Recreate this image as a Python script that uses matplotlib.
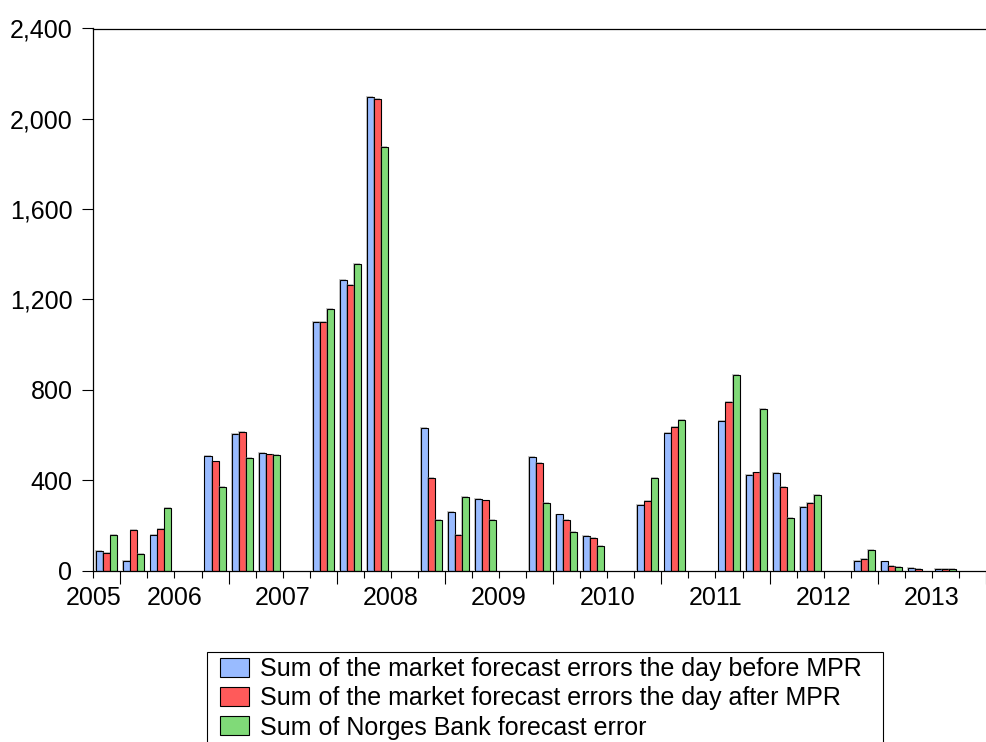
import numpy as np
import matplotlib
matplotlib.use("Agg")
import matplotlib.pyplot as plt
import matplotlib.patheffects as pe
from matplotlib.patches import Rectangle
from matplotlib.ticker import FuncFormatter

plt.rcParams['font.family'] = ['Liberation Sans', 'DejaVu Sans']

# one entry per quarter slot on the axis, None = no report that quarter
before_mpr = [85, 43, 159, None, 509, 605, 519, None, 1099, 1287, 2096, None,
              632, 258, 317, None, 502, 248, 153, None, 292, 611, None,
              661, 425, 431, 282, None, 44, 40, 13, 7, None]
after_mpr = [78, 180, 183, None, 483, 615, 514, None, 1099, 1266, 2090, None,
             409, 159, 310, None, 477, 224, 143, None, 309, 636, None,
             748, 434, 369, 301, None, 53, 19, 7, 7, None]
norges_bank = [158, 74, 278, None, 371, 500, 512, None, 1158, 1359, 1874, None,
               224, 326, 224, None, 300, 170, 108, None, 409, 667, None,
               865, 716, 233, 335, None, 90, 15, None, 8, None]

year_labels = ['2005', '2006', '2007', '2008', '2009', '2010', '2011', '2012', '2013']
year_label_slots = [0, 3, 7, 11, 15, 19, 23, 27, 31]
series_names = ['Sum of the market forecast errors the day before MPR',
                'Sum of the market forecast errors the day after MPR',
                'Sum of Norges Bank forecast error']
colors = ['#99BBFF', '#FF5A5A', '#80DA78']

FS = 18

fig = plt.figure(figsize=(9.86, 7.42), dpi=100)
ax = fig.add_axes([93.3 / 986, 1 - 570.5 / 742, 1 - 93.3 / 986, (570.5 - 28.5) / 742])

n = len(before_mpr)
x = np.arange(n)
w = 0.26
shadow = [pe.SimplePatchShadow(offset=(-0.6, 0.6), shadow_rgbFace='0.5', alpha=0.45), pe.Normal()]

handles = []
for k, (vals, col, name) in enumerate(zip([before_mpr, after_mpr, norges_bank], colors, series_names)):
    v = np.array([np.nan if a is None else a for a in vals], dtype=float)
    bars = ax.bar(x + (k - 1) * w, v, width=w, color=col, edgecolor='black',
                  linewidth=0.8, label=name, zorder=2)
    for b in bars:
        b.set_path_effects(shadow)
    handles.append(bars)

ax.set_ylim(0, 2400)
ax.set_xlim(-0.5, -0.5 + (986 - 93.3) / 27.4)
ax.set_yticks([0, 400, 800, 1200, 1600, 2000, 2400])
ax.yaxis.set_major_formatter(FuncFormatter(lambda v, p: f'{int(v):,}'))
ax.tick_params(axis='y', direction='out', length=8, width=0.8, pad=7, labelsize=FS)

# slot boundaries: short ticks everywhere, long ticks every fourth
bounds = np.arange(0, n + 1) - 0.5
long_b = bounds[1::4]
short_b = [b for b in bounds if b not in long_b]
ax.set_xticks(long_b)
ax.set_xticklabels([])
ax.set_xticks(short_b, minor=True)
ax.tick_params(axis='x', which='major', direction='out', length=9, width=0.8)
ax.tick_params(axis='x', which='minor', direction='out', length=5, width=0.8)

for lab, s in zip(year_labels, year_label_slots):
    ax.annotate(lab, xy=(s - 0.5, 0), xycoords=('data', 'axes fraction'),
                xytext=(0, -11.5), textcoords='offset points',
                ha='center', va='top', fontsize=FS)

for side in ['left', 'bottom', 'top']:
    ax.spines[side].set_linewidth(0.9)
ax.spines['right'].set_visible(False)

leg = fig.legend(handles=handles, loc='upper left',
                 bbox_to_anchor=(220 / 986, 1 - 657 / 742),
                 bbox_transform=fig.transFigure, borderaxespad=0,
                 fontsize=FS, frameon=False,
                 handlelength=1.15, handleheight=0.8, handletextpad=0.45,
                 labelspacing=0.21, borderpad=0)
for h in leg.legend_handles:
    h.set_path_effects([])

# square frame round the legend, open at the bottom edge of the picture
fig.canvas.draw()
bb = leg.get_window_extent(fig.canvas.get_renderer())
x0, x1 = bb.x0 - 13, bb.x1 + 21
y1 = bb.y1 + 5
fig.add_artist(Rectangle((x0 / 986, -0.05), (x1 - x0) / 986, y1 / 742 + 0.05,
                         transform=fig.transFigure, fill=False,
                         edgecolor='black', linewidth=0.8))

fig.savefig('out.png', dpi=100)
